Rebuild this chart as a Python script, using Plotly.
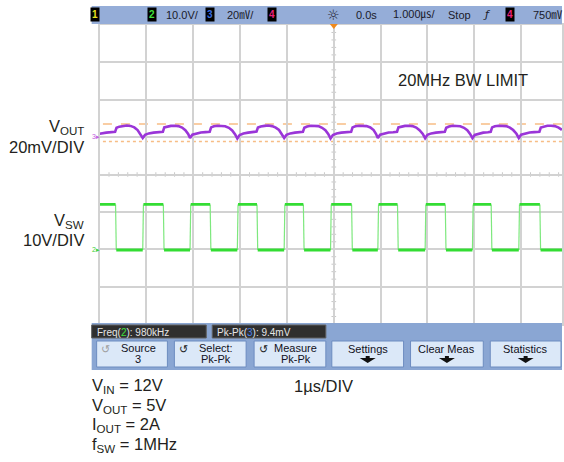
import plotly.graph_objects as go

W, H = 564, 462

# ---------------- data ----------------
# time axis: 1 us / div, 0 at screen centre
sw_rise_us = [-4.08, -3.07, -2.06, -1.06, -0.07, 0.94, 1.95, 2.96, 3.95]
sw_fall_us = [-4.66, -3.64, -2.64, -1.64, -0.65, 0.38, 1.36, 2.38, 3.36, 4.40]
sw_high_v = 12.0
sw_low_v = -0.2
sw_scale_v_div = 10.0
sw_offset_div = -2.0

vout_t_us = [
    -5.00, -4.86,
    -4.67, -4.64, -4.58, -4.50, -4.42, -4.34, -4.26, -4.19, -4.13, -4.08, -4.03, -3.95, -3.85, -3.75,
    -3.65, -3.62, -3.56, -3.48, -3.40, -3.32, -3.24, -3.17, -3.11, -3.07, -3.02, -2.94, -2.84, -2.74,
    -2.65, -2.62, -2.56, -2.48, -2.40, -2.32, -2.24, -2.17, -2.11, -2.06, -2.01, -1.93, -1.83, -1.73,
    -1.65, -1.62, -1.56, -1.48, -1.40, -1.32, -1.24, -1.17, -1.11, -1.06, -1.01, -0.93, -0.83, -0.73,
    -0.66, -0.63, -0.57, -0.49, -0.41, -0.33, -0.25, -0.18, -0.12, -0.07, -0.02, 0.06, 0.16, 0.26,
    0.37, 0.40, 0.46, 0.54, 0.62, 0.70, 0.78, 0.85, 0.90, 0.94, 0.99, 1.07, 1.17, 1.27,
    1.35, 1.38, 1.44, 1.52, 1.60, 1.68, 1.76, 1.83, 1.90, 1.95, 2.00, 2.08, 2.18, 2.28,
    2.37, 2.40, 2.46, 2.54, 2.62, 2.70, 2.78, 2.85, 2.91, 2.96, 3.01, 3.09, 3.19, 3.29,
    3.35, 3.38, 3.44, 3.52, 3.60, 3.68, 3.76, 3.83, 3.90, 3.95, 4.00, 4.08, 4.18, 4.28,
    4.39, 4.42, 4.48, 4.56, 4.64, 4.72, 4.80, 4.87,
]
vout_mv = [
    1.8, 2.4,
    2.8, 5.0, 5.6, 6.0, 6.2, 6.0, 5.2, 3.8, 1.8, -0.5, 1.2, 2.0, 2.4, 2.6,
    2.8, 5.2, 5.7, 6.0, 6.1, 5.9, 5.1, 3.7, 1.7, -0.5, 1.3, 2.0, 2.5, 2.7,
    2.9, 5.2, 5.8, 6.1, 6.1, 5.8, 5.0, 3.6, 1.6, -0.7, 1.1, 1.9, 2.4, 2.7,
    3.0, 5.1, 5.7, 6.0, 6.2, 5.9, 5.1, 3.8, 1.8, -0.5, 1.2, 2.0, 2.4, 2.6,
    2.8, 5.0, 5.7, 6.1, 6.1, 5.9, 5.0, 3.7, 1.7, -0.7, 1.1, 1.9, 2.4, 2.7,
    2.8, 5.2, 5.8, 6.1, 6.2, 5.9, 5.2, 3.8, 1.8, -0.5, 1.3, 2.0, 2.5, 2.6,
    2.9, 5.2, 5.7, 6.0, 6.1, 5.9, 5.1, 3.7, 1.7, -0.6, 1.2, 2.0, 2.4, 2.7,
    2.8, 5.0, 5.7, 6.1, 6.1, 5.8, 5.0, 3.7, 1.7, -0.5, 1.2, 1.9, 2.4, 2.6,
    2.8, 5.2, 5.8, 6.1, 6.2, 5.9, 5.1, 3.8, 1.8, -0.5, 1.3, 2.0, 2.5, 2.7,
    2.9, 5.1, 5.7, 6.1, 6.1, 5.9, 5.1, 3.9,
]
vout_scale_mv_div = 20.0
vout_offset_div = 1.0
vout_pk_top_mv = 7.0
vout_pkpk_mv = 9.4

bar_labels = ["10.0V/", "20㎷/", "0.0s", "1.000㎲/", "Stop", "750㎷"]
meas_labels = ["Freq(<span style='color:#3ee03e'>2</span>): 980kHz",
               "Pk-Pk(<span style='color:#4a7ee8'>3</span>): 9.4mV"]
button_labels = [("Source", "3"), ("Select:", "Pk-Pk"), ("Measure", "Pk-Pk"),
                 ("Settings", None), ("Clear Meas", None), ("Statistics", None)]
cond_labels = ["V<sub>IN</sub> = 12V", "V<sub>OUT</sub> = 5V",
               "I<sub>OUT</sub> = 2A", "f<sub>SW</sub> = 1MHz"]

# ---------------- helpers ----------------
def X(px):
    return px / W

def Y(py):
    return 1 - py / H

FONT = "Liberation Sans, Arial, sans-serif"
SCOPE_FONT = "Liberation Sans, Noto Sans CJK JP, sans-serif"
TXT = "#231f20"
GRID = "#d2d2d2"

annotations = []

def text(x, y, s, size, color, family=SCOPE_FONT, xa="center", ya="middle", **kw):
    annotations.append(dict(x=X(x), y=Y(y), xref="paper", yref="paper",
                            xanchor=xa, yanchor=ya, text=s, showarrow=False,
                            font=dict(family=family, size=size, color=color), **kw))

# ---------------- traces ----------------
events = sorted([(t, "r") for t in sw_rise_us] + [(t, "f") for t in sw_fall_us])
hi = sw_offset_div + sw_high_v / sw_scale_v_div
lo = sw_offset_div + sw_low_v / sw_scale_v_div
lvl_x, lvl_y, edge_x, edge_y = [], [], [], []
cur = hi
start = -5.0
for t, kind in events:
    lvl_x += [start, t, None]
    lvl_y += [cur, cur, None]
    nxt = hi if kind == "r" else lo
    edge_x += [t, t + 0.015, None]
    edge_y += [cur, nxt, None]
    cur = nxt
    start = t + 0.015
lvl_x += [start, 4.9]
lvl_y += [cur, cur]

vout_div = [vout_offset_div + v / vout_scale_mv_div for v in vout_mv]

fig = go.Figure()
fig.add_trace(go.Scatter(x=edge_x, y=edge_y, mode="lines",
                         line=dict(color="#7ee87e", width=1.2),
                         hoverinfo="skip", showlegend=False))
fig.add_trace(go.Scatter(x=lvl_x, y=lvl_y, mode="lines",
                         line=dict(color="#33dd33", width=2.8),
                         hoverinfo="skip", showlegend=False))
fig.add_trace(go.Scatter(x=vout_t_us, y=vout_div, mode="lines",
                         line=dict(color="#9a35d8", width=2.6),
                         hoverinfo="skip", showlegend=False))

shapes = []
top_div = vout_offset_div + vout_pk_top_mv / vout_scale_mv_div
bot_div = vout_offset_div + (vout_pk_top_mv - vout_pkpk_mv) / vout_scale_mv_div
shapes.append(dict(type="line", xref="x", yref="y", x0=-4.93, x1=4.9,
                   y0=top_div, y1=top_div, layer="below",
                   line=dict(color="#f7bd85", width=1.5, dash="dash")))
shapes.append(dict(type="line", xref="x", yref="y", x0=-4.93, x1=4.9,
                   y0=bot_div, y1=bot_div, layer="below",
                   line=dict(color="#f7bd85", width=1.5, dash="dot")))

for i in range(-25, 25):
    t = i * 0.2
    if abs(t - round(t)) < 1e-6:
        continue
    shapes.append(dict(type="line", xref="x", yref="y", x0=t, x1=t,
                       y0=-0.06, y1=0.06, layer="below",
                       line=dict(color="#c8c8c8", width=1)))
for i in range(-20, 21):
    v = i * 0.2
    if abs(v - round(v)) < 1e-6:
        continue
    shapes.append(dict(type="line", xref="x", yref="y", x0=-0.05, x1=0.05,
                       y0=v, y1=v, layer="below",
                       line=dict(color="#c8c8c8", width=1)))

# top status bar
shapes.append(dict(type="rect", xref="paper", yref="paper",
                   x0=X(92), x1=X(564), y0=Y(24), y1=Y(6),
                   fillcolor="#95add8", line=dict(width=0)))
shapes.append(dict(type="path", xref="paper", yref="paper",
                   path=f"M {X(331)} {Y(24)} L {X(339)} {Y(24)} L {X(335)} {Y(29)} Z",
                   fillcolor="#f08a1c", line=dict(width=0)))
# bottom panel
shapes.append(dict(type="rect", xref="paper", yref="paper",
                   x0=X(92), x1=X(564), y0=Y(370), y1=Y(323),
                   fillcolor="#8aa6d3", line=dict(width=0)))
for (a, b) in [(92, 207), (213, 327)]:
    shapes.append(dict(type="rect", xref="paper", yref="paper",
                       x0=X(a), x1=X(b), y0=Y(338), y1=Y(325),
                       fillcolor="#2f2f2f", line=dict(color="#606060", width=1)))
btn_x = [(97, 168), (175, 247), (255, 327), (333, 405), (412, 485), (492, 563)]
for (a, b) in btn_x:
    shapes.append(dict(type="rect", xref="paper", yref="paper",
                       x0=X(a), x1=X(b), y0=Y(367), y1=Y(341),
                       fillcolor="#dbe8f8", line=dict(color="#6d8cc0", width=1)))

# status bar contents
for (xc, d, col) in [(95, "1", "#e8e020"), (153, "2", "#3ee03e"),
                     (211, "3", "#3a6ee0"), (273, "4", "#e8207a"),
                     (512, "4", "#e8207a")]:
    text(xc, 15, f"<b>{d}</b>", 10, col, bgcolor="#000000", borderpad=1)
for (xc, s) in zip([183, 241, 368, 416, 461, 549], bar_labels):
    text(xc, 15, s, 11, "#1a1a2a")
text(335, 15, "☼", 14, "#1a1a2a", family="DejaVu Sans")
text(489, 15, "<i>ƒ</i>", 11, "#1a1a2a", family="DejaVu Sans")

# measurements
for (xl, s) in zip([95, 216], meas_labels):
    text(xl, 332, s, 10, "#e6e6e6", xa="left")
# buttons
for (a, b), (l1, l2) in zip(btn_x, button_labels):
    xc = (a + b) / 2
    if l2 is None:
        text(xc, 349, l1, 11, "#111122")
        shapes.append(dict(type="path", xref="paper", yref="paper",
                           path=(f"M {X(xc-2)} {Y(356)} L {X(xc+2)} {Y(356)} "
                                 f"L {X(xc+2)} {Y(358)} L {X(xc+8)} {Y(358)} "
                                 f"L {X(xc)} {Y(363)} L {X(xc-8)} {Y(358)} "
                                 f"L {X(xc-2)} {Y(358)} Z"),
                           fillcolor="#111111", line=dict(width=0)))
    else:
        xt = xc + 6
        text(xt, 348, l1, 11, "#111122")
        text(xt, 359, l2, 11, "#111122")
        icol = "#a0a0a0" if l1 == "Source" else "#222222"
        text(a + 9, 349, "↺", 11, icol, family="DejaVu Sans")

# channel ground markers
text(96, 136, "3▸", 7, "#c060e0")
text(96, 249, "2▸", 7, "#40d040")

# chart labels
def lab(x, y, s, anchor="right"):
    text(x, y, s, 16.5, TXT, family=FONT, xa=anchor)

lab(86, 127, "V<sub>OUT</sub>")
lab(86, 147, "20mV/DIV")
lab(86, 221, "V<sub>SW</sub>")
lab(86, 240, "10V/DIV")
lab(397, 80, "20MHz BW LIMIT", "left")
lab(293, 386, "1µs/DIV", "left")
for i, s in enumerate(cond_labels):
    lab(90, 386 + i * 19.5, s, "left")

fig.update_layout(
    width=W, height=H,
    margin=dict(l=0, r=0, t=0, b=0),
    paper_bgcolor="white", plot_bgcolor="white",
    showlegend=False,
    shapes=shapes, annotations=annotations,
    xaxis=dict(domain=[X(100), 1], range=[-5, (564 - 335) / 47.0],
               dtick=1, tick0=0, showgrid=True, gridcolor=GRID, gridwidth=1.5,
               zeroline=False, showticklabels=False, ticks="",
               showline=True, linecolor=GRID, linewidth=1.5, mirror=True),
    yaxis=dict(domain=[Y(324), Y(25)], range=[-4, 4],
               dtick=1, tick0=0, showgrid=True, gridcolor=GRID, gridwidth=1.5,
               zeroline=False, showticklabels=False, ticks="",
               showline=True, linecolor=GRID, linewidth=1.5, mirror=True),
)

fig.write_html("out.html", config={"displayModeBar": False},
               post_script="document.body.style.margin='0px';document.body.style.overflow='hidden';")
